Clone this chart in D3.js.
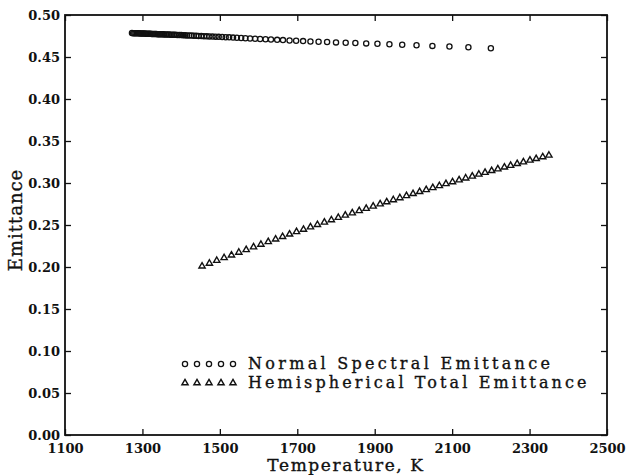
<!DOCTYPE html>
<html>
<head>
<meta charset="utf-8">
<script src="https://cdn.jsdelivr.net/npm/d3@7"></script>
<style>
  body { margin: 0; background: #fff; }
  svg { display: block; }
  .tick text { font-family: "DejaVu Serif", serif; font-weight: bold; font-size: 13px; fill: #111; }
</style>
</head>
<body>
<div id="chart"></div>
<script>
// Normal spectral emittance (circles)
const normalT = [1273, 1276, 1279, 1282, 1285, 1288, 1291, 1294, 1297, 1300, 1303, 1306, 1309, 1312, 1315,
  1318, 1321, 1324, 1327, 1330, 1333, 1336, 1339, 1342, 1345, 1348, 1351, 1354, 1357, 1361, 1365, 1369,
  1373, 1377, 1381, 1385, 1390, 1395, 1400, 1405, 1410, 1415, 1421, 1427, 1433, 1439, 1445, 1452, 1459,
  1466, 1473, 1481, 1489, 1497, 1506, 1515, 1524, 1534, 1544, 1555, 1566, 1578, 1591, 1604, 1618, 1632,
  1648, 1663, 1680, 1697, 1715, 1734, 1755, 1777, 1800, 1825, 1850, 1878, 1907, 1938, 1971, 2008, 2049,
  2093, 2142, 2200];
const normalE = [.4785, .4784, .4784, .4783, .4783, .4782, .4782, .4781, .4780, .4780, .4779, .4779, .4778,
  .4778, .4777, .4776, .4776, .4775, .4775, .4774, .4774, .4773, .4772, .4772, .4771, .4771, .4770, .4770,
  .4769, .4768, .4768, .4767, .4766, .4765, .4765, .4764, .4763, .4762, .4761, .4760, .4759, .4757, .4756,
  .4755, .4754, .4752, .4751, .4749, .4748, .4746, .4745, .4743, .4742, .4740, .4738, .4736, .4734, .4731,
  .4729, .4726, .4723, .4720, .4717, .4714, .4711, .4708, .4704, .4701, .4697, .4693, .4689, .4685, .4682,
  .4678, .4674, .4670, .4666, .4662, .4657, .4652, .4646, .4640, .4632, .4625, .4616, .4605];

// Hemispherical total emittance (triangles)
const hemiT = [1454, 1473, 1492, 1511, 1530, 1549, 1568, 1587, 1606, 1625, 1644, 1662, 1680, 1698, 1716,
  1734, 1752, 1770, 1788, 1806, 1824, 1842, 1860, 1878, 1896, 1914, 1931, 1948, 1965, 1982, 1999, 2016,
  2033, 2050, 2067, 2084, 2101, 2118, 2135, 2152, 2169, 2185, 2202, 2218, 2235, 2251, 2268, 2284, 2301,
  2317, 2334, 2350];
const hemiE = [.2010, .2043, .2076, .2109, .2141, .2174, .2205, .2237, .2269, .2300, .2331, .2361, .2390,
  .2419, .2447, .2476, .2504, .2532, .2560, .2588, .2615, .2642, .2669, .2696, .2723, .2749, .2774, .2799,
  .2823, .2848, .2872, .2896, .2919, .2943, .2966, .2990, .3013, .3035, .3058, .3080, .3103, .3124, .3146,
  .3166, .3188, .3208, .3229, .3249, .3270, .3289, .3310, .3329];

const xTicks = [1100, 1300, 1500, 1700, 1900, 2100, 2300, 2500];
const yTicks = [0, 0.05, 0.10, 0.15, 0.20, 0.25, 0.30, 0.35, 0.40, 0.45, 0.50];
const legendLabels = ["Normal Spectral Emittance", "Hemispherical Total Emittance"];

const width = 626, height = 475;
const margin = {top: 15, right: 19, bottom: 40, left: 65};

const svg = d3.select("#chart")
  .append("svg")
  .attr("width", width)
  .attr("height", height);

const x = d3.scaleLinear().domain([1100, 2500]).range([margin.left, width - margin.right]);
const y = d3.scaleLinear().domain([0, 0.5]).range([height - margin.bottom, margin.top]);

// axes, ticks pointing inward
svg.append("g")
  .attr("transform", `translate(0,${height - margin.bottom})`)
  .call(d3.axisBottom(x).tickValues(xTicks).tickSizeInner(-6).tickSizeOuter(0).tickPadding(9).tickFormat(d3.format("d")))
  .call(g => g.select(".domain").remove());
svg.append("g")
  .attr("transform", `translate(0,${margin.top})`)
  .call(d3.axisTop(x).tickValues(xTicks).tickSizeInner(-6).tickSizeOuter(0).tickFormat(""))
  .call(g => g.select(".domain").remove());
svg.append("g")
  .attr("transform", `translate(${margin.left},0)`)
  .call(d3.axisLeft(y).tickValues(yTicks).tickSizeInner(-6).tickSizeOuter(0).tickPadding(5).tickFormat(d3.format(".2f")))
  .call(g => g.select(".domain").remove());
svg.append("g")
  .attr("transform", `translate(${width - margin.right},0)`)
  .call(d3.axisRight(y).tickValues(yTicks).tickSizeInner(-6).tickSizeOuter(0).tickFormat(""))
  .call(g => g.select(".domain").remove());

svg.selectAll(".tick line").attr("stroke", "#111").attr("stroke-width", 1.3);

// frame
svg.append("rect")
  .attr("x", margin.left)
  .attr("y", margin.top)
  .attr("width", width - margin.left - margin.right)
  .attr("height", height - margin.top - margin.bottom)
  .attr("fill", "none")
  .attr("stroke", "#111")
  .attr("stroke-width", 1.8);

// data
svg.append("g")
  .selectAll("circle")
  .data(normalT.map((t, i) => [t, normalE[i]]))
  .join("circle")
  .attr("cx", d => x(d[0]))
  .attr("cy", d => y(d[1]))
  .attr("r", 2.6)
  .attr("fill", "none")
  .attr("stroke", "#111")
  .attr("stroke-width", 1.3);

const tri = d3.symbol().type(d3.symbolTriangle).size(17);
svg.append("g")
  .selectAll("path")
  .data(hemiT.map((t, i) => [t, hemiE[i]]))
  .join("path")
  .attr("d", tri)
  .attr("transform", d => `translate(${x(d[0])},${y(d[1])})`)
  .attr("fill", "none")
  .attr("stroke", "#111")
  .attr("stroke-width", 1.4);

// legend
const legend = svg.append("g");
const legX = [185, 197, 209, 221, 233];
const legY = [364, 383];
legend.selectAll("circle")
  .data(legX)
  .join("circle")
  .attr("cx", d => d)
  .attr("cy", legY[0])
  .attr("r", 2.6)
  .attr("fill", "none")
  .attr("stroke", "#111")
  .attr("stroke-width", 1.3);
legend.selectAll("path")
  .data(legX)
  .join("path")
  .attr("d", tri)
  .attr("transform", d => `translate(${d},${legY[1]})`)
  .attr("fill", "none")
  .attr("stroke", "#111")
  .attr("stroke-width", 1.4);
legend.selectAll("text")
  .data(legendLabels)
  .join("text")
  .attr("x", 248)
  .attr("y", (d, i) => legY[i] + 5)
  .attr("font-family", "DejaVu Serif, serif")
  .attr("font-size", 16)
  .attr("letter-spacing", (d, i) => i ? 3.1 : 3.3)
  .attr("fill", "#111")
  .attr("stroke", "#111")
  .attr("stroke-width", 0.35)
  .text(d => d);

// axis titles
svg.append("text")
  .attr("x", 346)
  .attr("y", 471)
  .attr("text-anchor", "middle")
  .attr("font-family", "DejaVu Serif, serif")
  .attr("font-size", 17)
  .attr("letter-spacing", 1.6)
  .attr("fill", "#111")
  .attr("stroke", "#111")
  .attr("stroke-width", 0.35)
  .text("Temperature, K");

svg.append("text")
  .attr("transform", "translate(22,220) rotate(-90)")
  .attr("text-anchor", "middle")
  .attr("font-family", "DejaVu Serif, serif")
  .attr("font-size", 18)
  .attr("letter-spacing", 1)
  .attr("fill", "#111")
  .attr("stroke", "#111")
  .attr("stroke-width", 0.35)
  .text("Emittance");
</script>
</body>
</html>
